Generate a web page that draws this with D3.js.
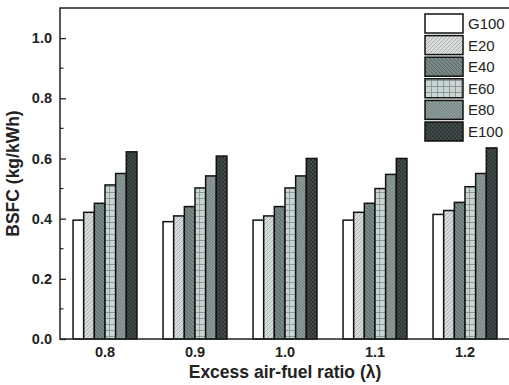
<!DOCTYPE html>
<html>
<head>
<meta charset="utf-8">
<script src="https://cdn.jsdelivr.net/npm/d3@7"></script>
<style>
  body { margin: 0; background: #fff; }
  svg text { font-family: "Liberation Sans", Arial, sans-serif; }
</style>
</head>
<body>
<div id="chart"></div>
<script>
const w = 509;
const h = 385;
const margin = {top: 8, right: -1, bottom: 46, left: 60};

const lambdas = ["0.8", "0.9", "1.0", "1.1", "1.2"];
const fuels = ["G100", "E20", "E40", "E60", "E80", "E100"];
const G100 = [0.395, 0.390, 0.395, 0.395, 0.414];
const E20  = [0.421, 0.409, 0.409, 0.421, 0.427];
const E40  = [0.451, 0.440, 0.440, 0.451, 0.454];
const E60  = [0.512, 0.502, 0.502, 0.500, 0.506];
const E80  = [0.550, 0.542, 0.542, 0.547, 0.550];
const E100 = [0.622, 0.608, 0.600, 0.600, 0.635];
const yTicks = [0, 0.2, 0.4, 0.6, 0.8, 1.0];

const series = [G100, E20, E40, E60, E80, E100];

const svg = d3.select("#chart")
    .append("svg")
    .attr("width", w)
    .attr("height", h);

// fill patterns
const defs = svg.append("defs");

function pattern(id, bg, size, lines, color, sw) {
    const p = defs.append("pattern")
        .attr("id", id)
        .attr("patternUnits", "userSpaceOnUse")
        .attr("width", size)
        .attr("height", size);
    p.append("rect").attr("width", size).attr("height", size).attr("fill", bg);
    lines.forEach(l => {
        p.append("path").attr("d", l).attr("stroke", color).attr("stroke-width", sw).attr("fill", "none");
    });
}

pattern("p-g100", "#ffffff", 4, [], "#000", 0);
pattern("p-e20", "#d9dddd", 4, ["M-1,1 L1,-1", "M0,4 L4,0", "M3,5 L5,3"], "#9aa3a3", 0.8);
pattern("p-e40", "#788987", 4, ["M-1,3 L1,5", "M0,0 L4,4", "M3,-1 L5,1"], "#4f5d5b", 0.8);
pattern("p-e60", "#c9d5d3", 6, ["M0,0.5 H6", "M0.5,0 V6"], "#7d8c8a", 0.8);
pattern("p-e80", "#8d9d9b", 3, ["M-1,2 L1,4", "M0,0 L3,3", "M2,-1 L4,1"], "#65736f", 0.7);
pattern("p-e100", "#2e3636", 4, ["M0,0 L4,4", "M0,4 L4,0"], "#4c5656", 0.7);

const fills = ["url(#p-g100)", "url(#p-e20)", "url(#p-e40)", "url(#p-e60)", "url(#p-e80)", "url(#p-e100)"];

const x0 = d3.scaleBand()
    .domain(lambdas)
    .range([margin.left, w - margin.right])
    .paddingInner(0.29)
    .paddingOuter(0.145);

const x1 = d3.scaleBand()
    .domain(fuels)
    .range([0, x0.bandwidth()]);

const y = d3.scaleLinear()
    .domain([0, 1.1])
    .range([h - margin.bottom, margin.top]);

// bars
const groups = svg.selectAll("g.group")
    .data(lambdas)
    .enter()
    .append("g")
    .attr("class", "group")
    .attr("transform", d => `translate(${x0(d)},0)`);

groups.selectAll("rect")
    .data((d, i) => fuels.map((f, j) => ({fuel: f, value: series[j][i], j: j})))
    .enter()
    .append("rect")
    .attr("x", d => x1(d.fuel))
    .attr("y", d => y(d.value))
    .attr("width", x1.bandwidth())
    .attr("height", d => y(0) - y(d.value))
    .attr("fill", d => fills[d.j])
    .attr("stroke", "#111")
    .attr("stroke-width", 1.5);

// frame
svg.append("rect")
    .attr("x", margin.left)
    .attr("y", margin.top)
    .attr("width", w - margin.right - margin.left)
    .attr("height", h - margin.bottom - margin.top)
    .attr("fill", "none")
    .attr("stroke", "#222")
    .attr("stroke-width", 1.5);

// y axis
const yAxis = svg.append("g")
    .attr("transform", `translate(${margin.left},0)`)
    .call(d3.axisLeft(y).tickValues(yTicks).tickFormat(d3.format(".1f")).tickSize(-6).tickPadding(8));
yAxis.select(".domain").remove();
yAxis.selectAll("line").attr("stroke", "#222").attr("stroke-width", 1.3);
yAxis.selectAll("text").attr("font-size", 14.5).attr("font-weight", "bold").attr("fill", "#222");

// minor y ticks
svg.selectAll("line.minor")
    .data(d3.range(1, 11, 2).map(v => v / 10))
    .enter()
    .append("line")
    .attr("class", "minor")
    .attr("x1", margin.left)
    .attr("x2", margin.left + 3.5)
    .attr("y1", d => y(d))
    .attr("y2", d => y(d))
    .attr("stroke", "#222")
    .attr("stroke-width", 1.2);

// x axis labels
const xAxis = svg.append("g")
    .attr("transform", `translate(0,${h - margin.bottom})`)
    .call(d3.axisBottom(x0).tickSize(0).tickPadding(8));
xAxis.select(".domain").remove();
xAxis.selectAll("text").attr("font-size", 14.5).attr("font-weight", "bold").attr("fill", "#222");

// axis titles
svg.append("text")
    .attr("x", 285)
    .attr("y", 378)
    .attr("text-anchor", "middle")
    .attr("font-size", 17.5)
    .attr("font-weight", "bold")
    .attr("fill", "#222")
    .text("Excess air-fuel ratio (\u03bb)");

svg.append("text")
    .attr("transform", `translate(19,${(margin.top + h - margin.bottom) / 2}) rotate(-90)`)
    .attr("text-anchor", "middle")
    .attr("font-size", 17.5)
    .attr("font-weight", "bold")
    .attr("fill", "#222")
    .text("BSFC (kg/kWh)");

// legend
const legend = svg.append("g")
    .attr("transform", "translate(425,14)");

legend.selectAll("rect")
    .data(fuels)
    .enter()
    .append("rect")
    .attr("x", 0)
    .attr("y", (d, i) => i * 21.6)
    .attr("width", 38)
    .attr("height", 19)
    .attr("fill", (d, i) => fills[i])
    .attr("stroke", "#111")
    .attr("stroke-width", 1.5);

legend.selectAll("text")
    .data(fuels)
    .enter()
    .append("text")
    .attr("x", 43)
    .attr("y", (d, i) => i * 21.6 + 15)
    .attr("font-size", 15)
    .attr("fill", "#222")
    .text(d => d);
</script>
</body>
</html>
